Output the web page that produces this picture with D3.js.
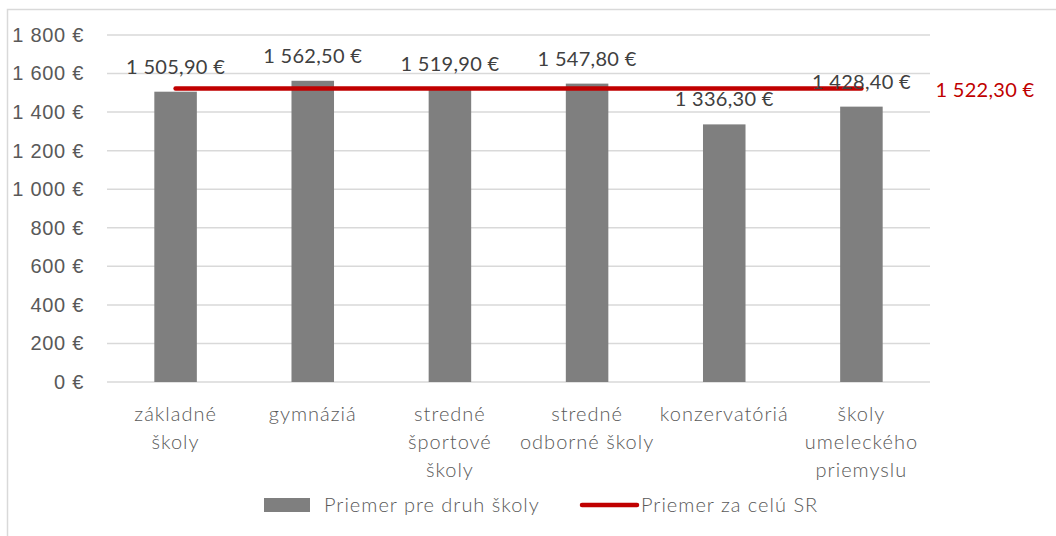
<!DOCTYPE html>
<html>
<head>
<meta charset="utf-8">
<script src="https://cdn.jsdelivr.net/npm/d3@7"></script>
<style>
  body { margin: 0; background: #fff; }
  svg { display: block; font-family: Lato, "Open Sans", sans-serif; }
</style>
</head>
<body>
<div id="chart"></div>
<script>
// data
var categories = [
  ['základné', 'školy'],
  ['gymnáziá'],
  ['stredné', 'športové', 'školy'],
  ['stredné', 'odborné školy'],
  ['konzervatóriá'],
  ['školy', 'umeleckého', 'priemyslu']
];
var values = [1505.90, 1562.50, 1519.90, 1547.80, 1336.30, 1428.40];
var average = 1522.30;
var yTicks = [0, 200, 400, 600, 800, 1000, 1200, 1400, 1600, 1800];
var legendLabels = ['Priemer pre druh školy', 'Priemer za celú SR'];

var width = 1056, height = 536;
var margin = {top: 35, right: 126, bottom: 154, left: 107};

var fmtNum = function(v, dec) {
  var s = v.toFixed(dec).split('.');
  var int = s[0].replace(/\B(?=(\d{3})+(?!\d))/g, ' ');
  return int + (dec ? ',' + s[1] : '') + ' €';
};

var svg = d3.select('#chart').append('svg')
    .attr('width', width)
    .attr('height', height);

// outer chart border
svg.append('rect')
    .attr('x', 7.5).attr('y', 9.5)
    .attr('width', width + 20).attr('height', height + 20)
    .attr('fill', 'none')
    .attr('stroke', '#d9d9d9')
    .attr('stroke-width', 1.5);

var x = d3.scaleBand()
    .domain(d3.range(categories.length))
    .range([margin.left, width - margin.right])
    .paddingInner(0.69)
    .paddingOuter(0.345);

var y = d3.scaleLinear()
    .domain([0, 1800])
    .range([height - margin.bottom, margin.top]);

// gridlines
svg.append('g')
  .selectAll('line')
  .data(yTicks)
  .enter().append('line')
    .attr('x1', margin.left)
    .attr('x2', width - margin.right)
    .attr('y1', function(d) { return y(d); })
    .attr('y2', function(d) { return y(d); })
    .attr('stroke', '#d9d9d9')
    .attr('stroke-width', 1.5);

// y axis labels
var yAxis = svg.append('g')
    .attr('transform', 'translate(' + margin.left + ',0)')
    .call(d3.axisLeft(y).tickValues(yTicks).tickSize(0).tickPadding(23)
      .tickFormat(function(d) { return fmtNum(d, 0); }));
yAxis.select('.domain').remove();
yAxis.selectAll('text')
    .attr('fill', '#595959')
    .style('font-size', '20px')
    .style('letter-spacing', '0.7px')
    .style('font-weight', 300);

// bars
svg.append('g')
  .selectAll('rect')
  .data(values)
  .enter().append('rect')
    .attr('x', function(d, i) { return x(i); })
    .attr('y', function(d) { return y(d); })
    .attr('width', x.bandwidth())
    .attr('height', function(d) { return y(0) - y(d); })
    .attr('fill', '#7f7f7f');

// average line
var cx = function(i) { return x(i) + x.bandwidth() / 2; };
svg.append('line')
    .attr('x1', cx(0))
    .attr('x2', cx(values.length - 1))
    .attr('y1', y(average))
    .attr('y2', y(average))
    .attr('stroke', '#c00000')
    .attr('stroke-width', 4.5)
    .attr('stroke-linecap', 'round');

svg.append('text')
    .attr('x', cx(values.length - 1) + 74)
    .attr('y', y(average) + 8)
    .attr('fill', '#c00000')
    .style('font-size', '20px')
    .style('letter-spacing', '0.3px')
    .text(fmtNum(average, 2));

// bar value labels
svg.append('g')
  .selectAll('text')
  .data(values)
  .enter().append('text')
    .attr('x', function(d, i) { return cx(i); })
    .attr('y', function(d) { return y(d) - 18; })
    .attr('text-anchor', 'middle')
    .attr('fill', '#404040')
    .style('font-size', '20px')
    .style('letter-spacing', '0.3px')
    .text(function(d) { return fmtNum(d, 2); });

// category labels
var cat = svg.append('g')
  .selectAll('text')
  .data(categories)
  .enter().append('text')
    .attr('x', function(d, i) { return cx(i); })
    .attr('y', y(0) + 39)
    .attr('text-anchor', 'middle')
    .attr('fill', '#595959')
    .style('font-size', '20px')
    .style('letter-spacing', '1px')
    .style('font-weight', 300);
cat.selectAll('tspan')
  .data(function(d) { return d; })
  .enter().append('tspan')
    .attr('x', function() { return d3.select(this.parentNode).attr('x'); })
    .attr('dy', function(d, i) { return i ? 28 : 0; })
    .text(function(d) { return d; });

// legend
var ly = 505;
svg.append('rect')
    .attr('x', 264).attr('y', ly - 7)
    .attr('width', 46).attr('height', 14)
    .attr('fill', '#7f7f7f');
svg.append('text')
    .attr('x', 324).attr('y', ly + 7)
    .attr('fill', '#595959')
    .style('font-size', '20px')
    .style('letter-spacing', '1px')
    .style('font-weight', 300)
    .text(legendLabels[0]);
svg.append('line')
    .attr('x1', 582).attr('x2', 637)
    .attr('y1', ly).attr('y2', ly)
    .attr('stroke', '#c00000')
    .attr('stroke-width', 4.5)
    .attr('stroke-linecap', 'round');
svg.append('text')
    .attr('x', 641).attr('y', ly + 7)
    .attr('fill', '#595959')
    .style('font-size', '20px')
    .style('letter-spacing', '1px')
    .style('font-weight', 300)
    .text(legendLabels[1]);
</script>
</body>
</html>
